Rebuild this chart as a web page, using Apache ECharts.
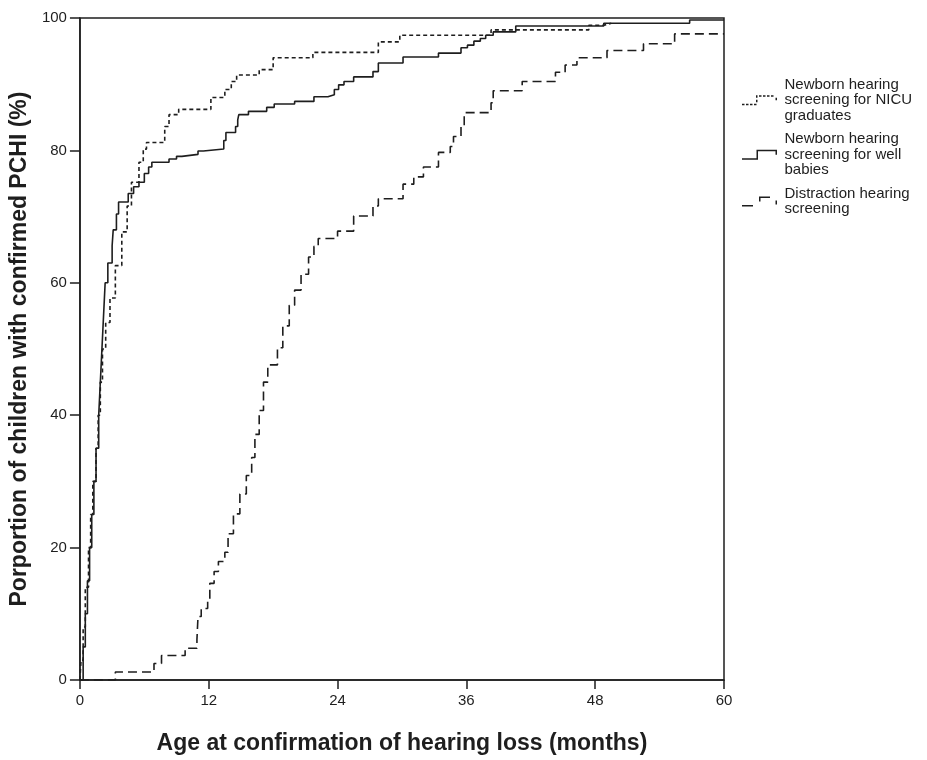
<!DOCTYPE html>
<html>
<head>
<meta charset="utf-8">
<script src="https://cdn.jsdelivr.net/npm/echarts@6/dist/echarts.min.js"></script>
<style>
html,body{margin:0;padding:0;background:#fff;}
#chart{width:927px;height:760px;}
</style>
</head>
<body>
<div id="chart"></div>
<script>
// ---- data ----
const xTicks = [0, 12, 24, 36, 48, 60];
const yTicks = [0, 20, 40, 60, 80, 100];

const nameNICU = "Newborn hearing\nscreening for NICU\ngraduates";
const nameWell = "Newborn hearing\nscreening for well\nbabies";
const nameDist = "Distraction hearing\nscreening";

// [age in months, cumulative % confirmed]
const nicuData = [
  [0,0],[0.1,3],[0.3,8],[0.5,14],[0.8,20],[1.0,25],[1.2,30],[1.5,35],[1.7,40],[1.9,45],
  [2.1,50],[2.4,54],[2.8,57.7],[3.3,62.6],[3.9,67.7],[4.4,71.6],[4.8,75.2],[5.5,78.2],
  [5.9,80.2],[6.2,81.2],[7.9,83.6],[8.3,85.4],[9.2,86.2],[12.2,88.0],[13.5,89.2],
  [14.1,90.4],[14.6,91.4],[16.7,92.2],[18.0,94.0],[21.7,94.8],[27.8,96.4],[29.8,97.4],
  [38.3,98.2],[47.4,98.9],[48.8,99.2],[49.5,99.2]
];

const wellData = [
  [0,0],[0.3,5],[0.5,10],[0.7,15],[0.9,20],[1.1,25],[1.3,30],[1.5,35],[1.75,40],[1.9,45],
  [2.05,50],[2.2,55],[2.35,60],[2.6,63],[3.0,65.6],[3.1,68],[3.4,70.4],[3.6,72.2],
  [4.5,73.5],[5.0,74.5],[5.5,75.2],[6.0,76.5],[6.4,77.5],[6.7,78.2],[8.3,78.7],[9.0,79.1],
  [9.5,79.4],[11.0,79.9],[11.5,80.2],[13.4,81.5],[13.6,82.7],[14.5,83.6],[14.7,84.6],
  [14.8,85.4],[15.7,85.9],[17.4,86.5],[18.1,87.0],[20.0,87.4],[21.8,88.1],[23.1,88.4],
  [23.7,89.2],[24.1,89.9],[24.6,90.4],[25.5,91.1],[27.3,91.9],[27.8,93.2],[30.1,94.1],
  [33.4,94.7],[35.5,95.5],[36.1,95.9],[36.7,96.5],[37.3,96.9],[37.8,97.4],[38.5,97.9],
  [40.6,98.8],[48.8,99.2],[56.8,99.7],[60,99.7]
];

const distData = [
  [0,0],[3.3,1.2],[6.9,2.5],[7.6,3.7],[9.8,4.8],[10.9,6.1],[11.0,9.6],[11.3,10.8],
  [11.9,12.1],[12.1,14.6],[12.5,16.4],[12.9,17.9],[13.5,19.3],[13.8,22.1],[14.3,25.1],
  [14.9,28.1],[15.5,30.9],[16.0,33.6],[16.3,37.1],[16.7,40.7],[17.1,45.0],[17.5,47.6],
  [18.4,50.2],[18.9,53.5],[19.5,56.6],[20.0,58.9],[20.6,61.3],[21.3,63.9],[21.8,65.5],
  [22.2,66.7],[24.0,67.8],[25.5,70.1],[27.3,71.6],[27.8,72.7],[30.1,74.9],[31.1,76.0],
  [32.0,77.5],[33.4,79.7],[34.5,80.6],[34.8,82.1],[35.5,83.6],[35.8,85.7],[38.3,87.2],
  [38.5,89.0],[41.2,90.4],[44.3,91.8],[45.2,92.9],[46.3,94.0],[49.1,95.1],[52.5,96.1],
  [55.4,97.6],[60,97.6]
];

// ---- legend icons (step shapes) ----
const iconWell = 'path://M0,8.5H16V10H0Z M14.5,0H16V10H14.5Z M14.5,0H35V1.5H14.5Z M33.5,0H35V5H33.5Z';
const iconNICU = 'path://M0,8.5H2.5V10H0Z M4,8.5H6.5V10H4Z M8,8.5H10.5V10H8Z M12,8.5H14.5V10H12Z M14,4.5H15.5V7H14Z M14,0H15.5V2.5H14Z M17,0H19.5V1.5H17Z M21,0H23.5V1.5H21Z M25,0H27.5V1.5H25Z M29,0H31.5V1.5H29Z M33.5,2.5H35V5H33.5Z';
const iconDist = 'path://M0,8.5H11V10H0Z M17,0H18.5V5H17Z M17,0H28V1.5H17Z M33.5,4H35V8H33.5Z';

const FONT = '"Liberation Sans", Arial, sans-serif';
const INK = '#1e1e1e';

const chart = echarts.init(document.getElementById('chart'), null, {renderer:'canvas'});
chart.setOption({
  animation: false,
  backgroundColor: '#fff',
  grid: {left: 78, right: 203, top: 18, bottom: 76, show: true, borderColor: INK, borderWidth: 1.5, backgroundColor: 'transparent'},
  legend: {
    orient: 'vertical', left: 737, top: 72, itemWidth: 40, itemHeight: 10, itemGap: 8,
    symbolKeepAspect: true,
    textStyle: {fontFamily: FONT, fontSize: 15, lineHeight: 15.5, color: INK},
    data: [
      {name: nameNICU, icon: iconNICU},
      {name: nameWell, icon: iconWell},
      {name: nameDist, icon: iconDist}
    ]
  },
  xAxis: {
    type: 'value', min: xTicks[0], max: xTicks[xTicks.length-1], interval: 12,
    name: 'Age at confirmation of hearing loss (months)', nameLocation: 'middle', nameGap: 52,
    nameTextStyle: {fontFamily: FONT, fontSize: 23, fontWeight: 'bold', color: INK},
    axisLine: {lineStyle: {color: INK, width: 1.5}},
    axisTick: {length: 9, lineStyle: {color: INK, width: 1.5}},
    axisLabel: {fontFamily: FONT, fontSize: 15, color: INK, margin: 13},
    splitLine: {show: false}
  },
  yAxis: {
    type: 'value', min: yTicks[0], max: yTicks[yTicks.length-1], interval: 20,
    name: 'Porportion of children with confirmed PCHI (%)', nameLocation: 'middle', nameGap: 48,
    nameTextStyle: {fontFamily: FONT, fontSize: 23, fontWeight: 'bold', color: INK},
    axisLine: {lineStyle: {color: INK, width: 1.5}},
    axisTick: {length: 10, lineStyle: {color: INK, width: 1.5}},
    axisLabel: {fontFamily: FONT, fontSize: 15, color: INK, margin: 13},
    splitLine: {show: false}
  },
  series: [
    {name: nameNICU, type: 'line', step: 'end', data: nicuData, showSymbol: false, symbol: 'none',
     color: INK, lineStyle: {color: INK, width: 1.6, type: [4, 3]}, clip: true},
    {name: nameWell, type: 'line', step: 'end', data: wellData, showSymbol: false, symbol: 'none',
     color: INK, lineStyle: {color: INK, width: 1.6, type: 'solid'}, clip: true},
    {name: nameDist, type: 'line', step: 'end', data: distData, showSymbol: false, symbol: 'none',
     color: INK, lineStyle: {color: INK, width: 1.6, type: [9, 5]}, clip: true}
  ]
});
</script>
</body>
</html>
